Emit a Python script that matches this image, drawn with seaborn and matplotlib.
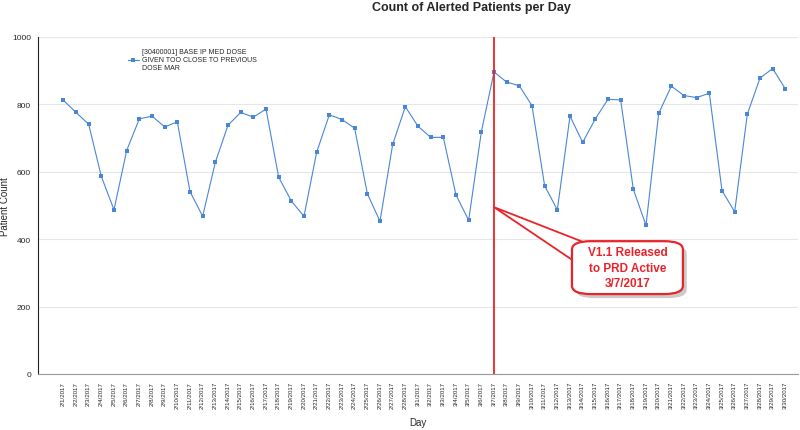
import matplotlib
matplotlib.use("Agg")
import matplotlib.pyplot as plt
import seaborn as sns
import pandas as pd
from matplotlib.patches import FancyBboxPatch

# daily alert counts, 2/1/2017 - 3/30/2017
days = [f"2/{d}/2017" for d in range(1, 29)] + [f"3/{d}/2017" for d in range(1, 31)]
counts = [812, 776, 741, 586, 487, 663, 757, 765, 733, 748,
          541, 468, 628, 738, 776, 762, 786, 584, 513, 468,
          658, 769, 755, 729, 535, 453, 681, 793, 735, 702,
          702, 531, 456, 718, 896, 866, 855, 796, 558, 487,
          765, 687, 757, 815, 813, 548, 441, 773, 854, 826,
          820, 833, 544, 481, 771, 878, 906, 846]
series_name = "[30400001] BASE IP MED DOSE\nGIVEN TOO CLOSE TO PREVIOUS\nDOSE MAR"
release_day = "3/7/2017"
release_note = "V1.1 Released\nto PRD Active\n3/7/2017"

df = pd.DataFrame({"pos": range(len(days)), "day": days, "count": counts})

sns.set_style("white")
plt.rcParams['font.family'] = ['Liberation Sans', 'DejaVu Sans']

fig = plt.figure(figsize=(8, 4.31), dpi=100)
ax = fig.add_axes([0.0475, 0.13, 0.95, 0.782])

sns.lineplot(data=df, x="pos", y="count", ax=ax, color="#4a86d6", linewidth=0.8,
             marker="s", markersize=2.2, markeredgewidth=0, label=series_name)

ax.set_xlim(-2, len(days))
ax.set_ylim(0, 1000)
ax.set_yticks(range(0, 1001, 200))
ax.set_xticks(df["pos"])
ax.set_xticklabels(days, rotation=90, fontsize=4.4)
ax.tick_params(axis="y", labelsize=6, length=4, width=0.8, color="#333333", pad=1)
ax.tick_params(axis="x", length=3, width=0.8, color="#333333", pad=2)
ax.grid(axis="y", color="#e6e6e6", linewidth=0.8)
ax.set_axisbelow(True)
for s in ["top", "right"]:
    ax.spines[s].set_visible(False)
ax.spines["left"].set_color("#222222")
ax.spines["bottom"].set_color("#999999")

ax.set_xlabel("Day", fontsize=7, labelpad=6)
ax.set_ylabel("Patient Count", fontsize=7)
ax.yaxis.set_label_coords(-0.037, 0.5)
ax.set_title("Count of Alerted Patients per Day", fontsize=9, fontweight="bold",
             x=0.57, y=1.055)

ax.legend(loc="upper left", bbox_to_anchor=(0.11, 0.985), frameon=False,
          fontsize=5, handlelength=1.6, handletextpad=0.4, labelspacing=0.2)

# release marker
rx = days.index(release_day)
ax.axvline(rx, color="#ee2222", linewidth=1.3, zorder=5)

# callout: arrow, shadow, box, text
bx, by, bw, bh = 0.7026, 0.237, 0.146, 0.157
ax.annotate("", xy=(rx, 495), xycoords="data",
            xytext=(bx + 0.02, by + bh * 0.72), textcoords="axes fraction", zorder=6,
            arrowprops=dict(arrowstyle="wedge,tail_width=1.4", mutation_scale=12,
                            facecolor="white", edgecolor="#e8242a", linewidth=1.3,
                            shrinkA=0, shrinkB=0))
ax.add_patch(FancyBboxPatch((bx + 0.005, by - 0.012), bw, bh,
                            boxstyle="round,pad=0,rounding_size=0.025",
                            transform=ax.transAxes, facecolor="#a0a0a0", edgecolor="none",
                            alpha=0.55, zorder=6))
ax.add_patch(FancyBboxPatch((bx, by), bw, bh,
                            boxstyle="round,pad=0,rounding_size=0.025",
                            transform=ax.transAxes, facecolor="white", edgecolor="#e8242a",
                            linewidth=1.6, zorder=7))
ax.text(bx + bw / 2, by + bh / 2, release_note, transform=ax.transAxes,
        ha="center", va="center", fontsize=8.5, fontweight="bold", color="#e8242a",
        linespacing=1.35, zorder=8)

fig.savefig("out.png", dpi=100)
